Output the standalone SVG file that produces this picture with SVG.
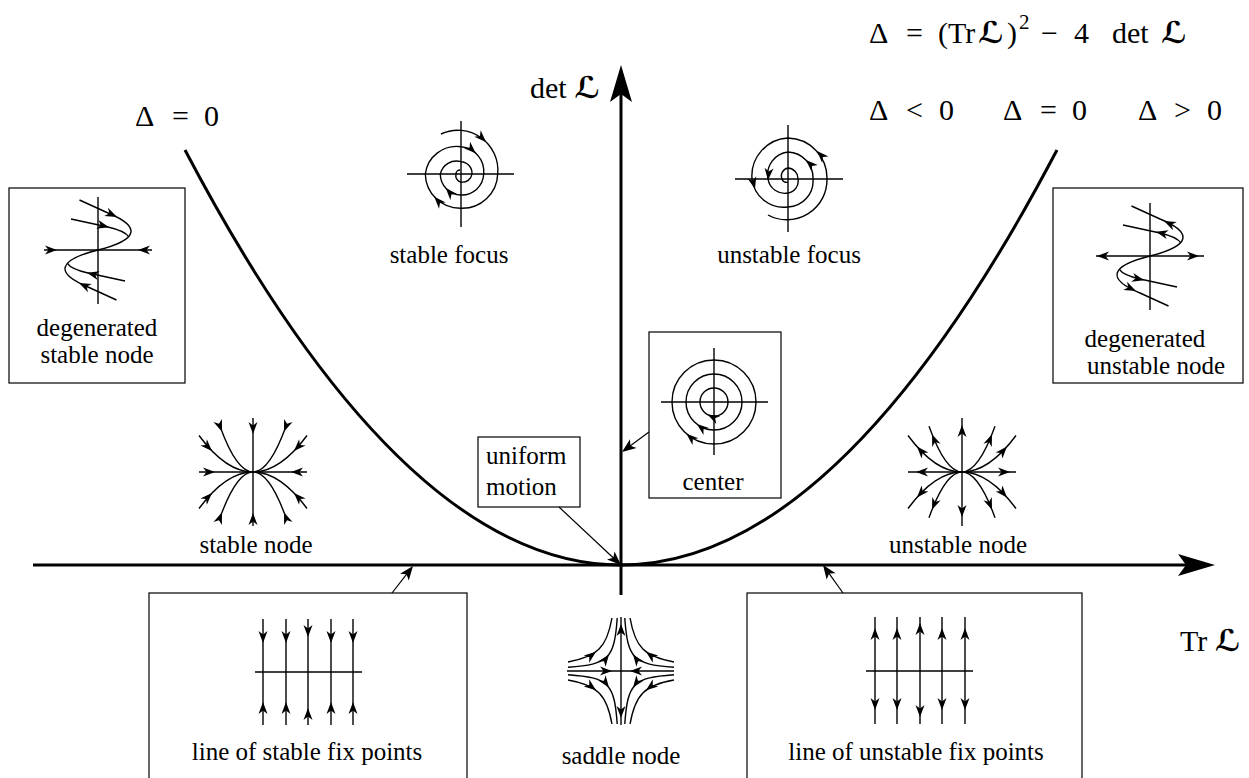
<svg xmlns="http://www.w3.org/2000/svg" width="1249" height="778" viewBox="0 0 1249 778" font-family="Liberation Serif, serif">
<style>
.lb{font-family:"Liberation Serif",serif;font-size:25px;fill:#000}
.mt{font-family:"Liberation Serif",serif;font-size:30px;fill:#000}
.sc{font-family:"DejaVu Sans",sans-serif;font-weight:bold}
.ax{stroke:#000;stroke-width:3;fill:none}
.ln{stroke:#000;stroke-width:1.4;fill:none}
.bx{stroke:#000;stroke-width:1.2;fill:#fff}
.cn{stroke:#000;stroke-width:1.2;fill:none}
</style>
<defs>
<path id="a" d="M0,0 L-12,-4.5 L-8.5,0 L-12,4.5 Z"/>
<path id="A" d="M0,0 L-37,-11 L-29,0 L-37,11 Z"/>
<path id="ca" d="M0,0 L-14,-5.5 L-10.5,0 L-14,5.5 Z"/>
<g id="dgh">
<path class="ln" d="M-18.5,-50 L10,-37 C44,-23 40,-10 0,0"/>
<path class="ln" d="M-27,-31 L10,-23 Q27,-19 30.6,-13.3"/>
</g>
<path id="spiral" class="ln" d="M-20,-40 A40,40 0 0 1 36.7,0 A35.5,35.5 0 0 1 0,34.3 A35,35 0 0 1 -35.7,0 A31.5,31.5 0 0 1 0,-27.3 A25,25 0 0 1 22.7,0 A22,22 0 0 1 0,21 A21,21 0 0 1 -20.7,0 A16.5,16.5 0 0 1 0,-12.3 A11.6,11.6 0 0 1 11,0 A9.5,9.5 0 0 1 0,8 A6.5,6.5 0 0 1 -5,0 A4,4 0 0 1 -1,-4"/>
<path id="spiral2" class="ln" d="M-20,36 A40,40 0 0 0 39,0 A40,40 0 0 0 0,-41 A38,38 0 0 0 -36,0 A32,32 0 0 0 0,28 A26,26 0 0 0 25,0 A26,26 0 0 0 0,-27 A23,23 0 0 0 -20,0 A17,17 0 0 0 0,14 A12,12 0 0 0 10,0 A10.5,10.5 0 0 0 0,-11 A8,8 0 0 0 -6,0 A4.5,4.5 0 0 0 0,3"/>
<g id="nq">
<path class="ln" d="M-54,-36.5 Q-27,0 0,0"/>
<path class="ln" d="M-33,-45.7 Q-16.5,0 0,0"/>
</g>
<g id="sq">
<path class="ln" d="M-53,-9.06 C-23.6,-14.1 -14.1,-23.6 -9.06,-53"/>
<path class="ln" d="M-53,-3.77 C-12.1,-6.68 -6.68,-12.1 -3.77,-53"/>
<use href="#a" transform="translate(-25,-19.2) rotate(-37.6)"/>
<use href="#a" transform="translate(-12,-16.6) rotate(-54)"/>
</g>
</defs>

<g id="axes">
<path class="ax" d="M185,150 Q621,980 1057,150"/>
<line class="ax" x1="33" y1="565" x2="1190" y2="565"/>
<use href="#A" transform="translate(1215,565)"/>
<line class="ax" x1="621" y1="595" x2="621" y2="92"/>
<use href="#A" transform="translate(621,65) rotate(-90)"/>
</g>

<g id="labels">
<text class="mt" x="530" y="98">det <tspan class="sc">ℒ</tspan></text>
<text class="mt" x="1180" y="651">Tr <tspan class="sc">ℒ</tspan></text>
<text class="mt" y="126"><tspan x="135">Δ</tspan><tspan x="172">=</tspan><tspan x="204">0</tspan></text>
<text class="mt" y="43"><tspan x="869">Δ</tspan><tspan x="906">=</tspan><tspan x="938">(Tr</tspan><tspan x="978" class="sc">ℒ</tspan><tspan x="1007">)</tspan><tspan x="1019" y="29" style="font-size:21px">2</tspan><tspan x="1041" y="43">−</tspan><tspan x="1074">4</tspan><tspan x="1112">det</tspan><tspan x="1161" class="sc">ℒ</tspan></text>
<text class="mt" y="120"><tspan x="869">Δ</tspan><tspan x="906">&lt;</tspan><tspan x="939">0</tspan><tspan x="1003">Δ</tspan><tspan x="1040">=</tspan><tspan x="1072">0</tspan><tspan x="1138">Δ</tspan><tspan x="1174">&gt;</tspan><tspan x="1207">0</tspan></text>
</g>

<g id="stable-focus">
<line class="ln" x1="407" y1="174" x2="514" y2="174"/>
<line class="ln" x1="461" y1="121" x2="461" y2="227"/>
<g transform="translate(461,174)">
<use href="#spiral"/>
<use href="#a" transform="translate(25,-32) rotate(45)"/>
<use href="#a" transform="translate(14.8,-20.8) rotate(43)"/>
<use href="#a" transform="translate(-15.3,14.1) rotate(228)"/>
<use href="#a" transform="translate(-26.7,22.7) rotate(228)"/>
</g>
<text class="lb" x="449" y="263" text-anchor="middle">stable focus</text>
</g>

<g id="unstable-focus">
<line class="ln" x1="735" y1="179" x2="843" y2="179"/>
<line class="ln" x1="788" y1="125" x2="788" y2="232"/>
<g transform="translate(788,179)">
<use href="#spiral2"/>
<use href="#a" transform="translate(29,-28) rotate(-134)"/>
<use href="#a" transform="translate(18,-19) rotate(-136)"/>
<use href="#a" transform="translate(-20,1) rotate(95)"/>
<use href="#a" transform="translate(-33,10) rotate(75)"/>
</g>
<text class="lb" x="789" y="263" text-anchor="middle">unstable focus</text>
</g>

<g id="degenerated-stable-node">
<rect class="bx" x="9" y="188" width="176" height="195"/>
<g transform="translate(98,250)">
<line class="ln" x1="-54" y1="0" x2="54" y2="0"/>
<line class="ln" x1="0" y1="-53" x2="0" y2="54"/>
<use href="#dgh"/>
<use href="#dgh" transform="rotate(180)"/>
<use href="#a" transform="translate(19,-33) rotate(25)"/>
<use href="#a" transform="translate(11,-22.8) rotate(14)"/>
<use href="#a" transform="translate(-19,33) rotate(205)"/>
<use href="#a" transform="translate(-11,22.8) rotate(194)"/>
<use href="#a" transform="translate(-41,0)"/>
<use href="#a" transform="translate(40,0) rotate(180)"/>
</g>
<text class="lb" x="97" y="336" text-anchor="middle">degenerated</text>
<text class="lb" x="97" y="363" text-anchor="middle">stable node</text>
</g>

<g id="degenerated-unstable-node">
<rect class="bx" x="1053" y="188" width="190" height="195"/>
<g transform="translate(1150,256)">
<line class="ln" x1="-54" y1="0" x2="54" y2="0"/>
<line class="ln" x1="0" y1="-53" x2="0" y2="54"/>
<use href="#dgh"/>
<use href="#dgh" transform="rotate(180)"/>
<use href="#a" transform="translate(14,-35) rotate(205)"/>
<use href="#a" transform="translate(6,-24.3) rotate(194)"/>
<use href="#a" transform="translate(-14,35) rotate(25)"/>
<use href="#a" transform="translate(-6,24.3) rotate(14)"/>
<use href="#a" transform="translate(-53,0) rotate(180)"/>
<use href="#a" transform="translate(49,0)"/>
</g>
<text class="lb" x="1145" y="347" text-anchor="middle">degenerated</text>
<text class="lb" x="1156" y="374" text-anchor="middle">unstable node</text>
</g>

<g id="stable-node">
<g transform="translate(253,472)">
<line class="ln" x1="-54" y1="0" x2="54" y2="0"/>
<line class="ln" x1="0" y1="-54" x2="0" y2="54"/>
<use href="#nq"/>
<use href="#nq" transform="scale(-1,1)"/>
<use href="#nq" transform="scale(1,-1)"/>
<use href="#nq" transform="scale(-1,-1)"/>
<g id="nqa">
<use href="#a" transform="translate(-41,-21) rotate(45.7)"/>
<use href="#a" transform="translate(-31,-40.3) rotate(69)"/>
</g>
<use href="#nqa" transform="scale(-1,1)"/>
<use href="#nqa" transform="scale(1,-1)"/>
<use href="#nqa" transform="scale(-1,-1)"/>
<use href="#a" transform="translate(-38,0)"/>
<use href="#a" transform="translate(38,0) rotate(180)"/>
<use href="#a" transform="translate(0,-38) rotate(90)"/>
<use href="#a" transform="translate(0,41) rotate(-90)"/>
</g>
<text class="lb" x="256" y="553" text-anchor="middle">stable node</text>
</g>

<g id="unstable-node">
<g transform="translate(962,472)">
<line class="ln" x1="-54" y1="0" x2="54" y2="0"/>
<line class="ln" x1="0" y1="-54" x2="0" y2="54"/>
<use href="#nq"/>
<use href="#nq" transform="scale(-1,1)"/>
<use href="#nq" transform="scale(1,-1)"/>
<use href="#nq" transform="scale(-1,-1)"/>
<g id="nua">
<use href="#a" transform="translate(-45,-25.4) rotate(228.4)"/>
<use href="#a" transform="translate(-30,-37.8) rotate(248.4)"/>
</g>
<use href="#nua" transform="scale(-1,1)"/>
<use href="#nua" transform="scale(1,-1)"/>
<use href="#nua" transform="scale(-1,-1)"/>
<use href="#a" transform="translate(-46,0) rotate(180)"/>
<use href="#a" transform="translate(48,0)"/>
<use href="#a" transform="translate(0,-47) rotate(-90)"/>
<use href="#a" transform="translate(0,45) rotate(90)"/>
</g>
<text class="lb" x="958" y="553" text-anchor="middle">unstable node</text>
</g>

<g id="center">
<rect class="bx" x="649" y="332" width="132" height="166"/>
<line class="ln" x1="661" y1="402" x2="768" y2="402"/>
<line class="ln" x1="714" y1="348" x2="714" y2="455"/>
<circle class="ln" cx="714" cy="402" r="14"/>
<circle class="ln" cx="714" cy="402" r="28"/>
<circle class="ln" cx="714" cy="402" r="42"/>
<use href="#a" transform="translate(707.6,414.5) rotate(207)"/>
<use href="#a" transform="translate(696.8,424.1) rotate(218)"/>
<use href="#a" transform="translate(686.4,433.7) rotate(221)"/>
<text class="lb" x="713" y="490" text-anchor="middle">center</text>
</g>

<g id="uniform-motion">
<rect class="bx" x="478" y="437" width="102" height="70"/>
<text class="lb" x="486" y="464">uniform</text>
<text class="lb" x="486" y="495">motion</text>
</g>

<g id="saddle-node">
<g transform="translate(621,671)">
<line class="ln" x1="-54" y1="0" x2="53" y2="0"/>
<line class="ln" x1="0" y1="-54" x2="0" y2="54"/>
<use href="#sq"/>
<use href="#sq" transform="scale(-1,1)"/>
<use href="#sq" transform="scale(1,-1)"/>
<use href="#sq" transform="scale(-1,-1)"/>
<use href="#a" transform="translate(-9,0)"/>
<use href="#a" transform="translate(9,0) rotate(180)"/>
<use href="#a" transform="translate(0,-47) rotate(-90)"/>
<use href="#a" transform="translate(0,47) rotate(90)"/>
</g>
<text class="lb" x="621" y="764" text-anchor="middle">saddle node</text>
</g>

<g id="stable-fix-points">
<rect class="bx" x="149" y="593" width="318" height="200"/>
<line class="ln" x1="255" y1="672" x2="362" y2="672"/>
<g class="ln">
<line x1="263" y1="619" x2="263" y2="725"/>
<line x1="286" y1="619" x2="286" y2="725"/>
<line x1="308" y1="619" x2="308" y2="725"/>
<line x1="331" y1="619" x2="331" y2="725"/>
<line x1="353" y1="619" x2="353" y2="725"/>
</g>
<use href="#a" transform="translate(263,643) rotate(90)"/>
<use href="#a" transform="translate(286,643) rotate(90)"/>
<use href="#a" transform="translate(308,637) rotate(90)"/>
<use href="#a" transform="translate(331,643) rotate(90)"/>
<use href="#a" transform="translate(353,643) rotate(90)"/>
<use href="#a" transform="translate(263,702) rotate(-90)"/>
<use href="#a" transform="translate(286,702) rotate(-90)"/>
<use href="#a" transform="translate(308,708) rotate(-90)"/>
<use href="#a" transform="translate(331,702) rotate(-90)"/>
<use href="#a" transform="translate(353,702) rotate(-90)"/>
<text class="lb" x="307" y="760" text-anchor="middle">line of stable fix points</text>
</g>

<g id="unstable-fix-points">
<rect class="bx" x="747" y="593" width="335" height="200"/>
<line class="ln" x1="866" y1="671" x2="973" y2="671"/>
<g class="ln">
<line x1="875" y1="617" x2="875" y2="724"/>
<line x1="897" y1="617" x2="897" y2="724"/>
<line x1="920" y1="617" x2="920" y2="724"/>
<line x1="942" y1="617" x2="942" y2="724"/>
<line x1="965" y1="617" x2="965" y2="724"/>
</g>
<use href="#a" transform="translate(875,628) rotate(-90)"/>
<use href="#a" transform="translate(897,628) rotate(-90)"/>
<use href="#a" transform="translate(920,623) rotate(-90)"/>
<use href="#a" transform="translate(942,628) rotate(-90)"/>
<use href="#a" transform="translate(965,628) rotate(-90)"/>
<use href="#a" transform="translate(875,710) rotate(90)"/>
<use href="#a" transform="translate(897,710) rotate(90)"/>
<use href="#a" transform="translate(920,717) rotate(90)"/>
<use href="#a" transform="translate(942,710) rotate(90)"/>
<use href="#a" transform="translate(965,710) rotate(90)"/>
<text class="lb" x="916" y="760" text-anchor="middle">line of unstable fix points</text>
</g>

<g id="connectors">
<line class="cn" x1="559" y1="507" x2="613.7" y2="558.2"/>
<use href="#ca" transform="translate(621,565) rotate(43.1)"/>
<line class="cn" x1="649" y1="432" x2="630" y2="446"/>
<use href="#ca" transform="translate(622,452) rotate(143.5)"/>
<line class="cn" x1="392" y1="593" x2="406.9" y2="573.9"/>
<use href="#ca" transform="translate(413,566) rotate(-52.1)"/>
<line class="cn" x1="843" y1="593" x2="828.8" y2="573.1"/>
<use href="#ca" transform="translate(823,565) rotate(-125.5)"/>
</g>
</svg>
